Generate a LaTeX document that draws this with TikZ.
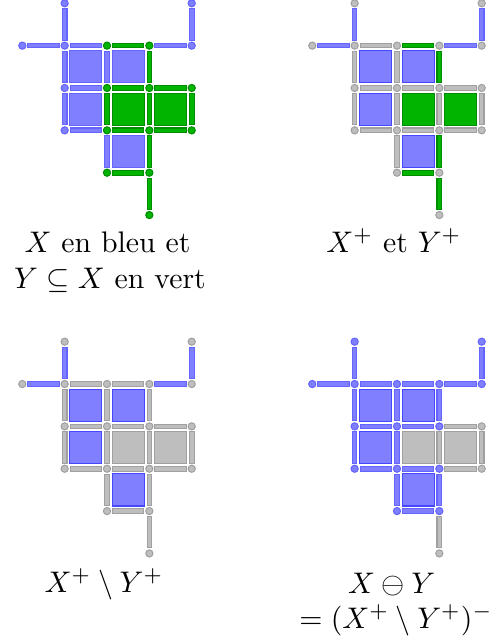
\documentclass[tikz,border=0pt]{standalone}
\usepackage{amsmath}
\usetikzlibrary{positioning}
\definecolor{CellBlue}{RGB}{127,127,255}
\definecolor{CellBlueLine}{RGB}{100,100,255}
\definecolor{CellBlueEdge}{RGB}{70,70,255}
\definecolor{CellGreen}{RGB}{0,180,0}
\definecolor{CellGreenLine}{RGB}{0,140,0}
\definecolor{CellGray}{RGB}{190,190,190}
\definecolor{CellGrayLine}{RGB}{160,160,160}
% cells of a cubical complex: vertex, horizontal edge, vertical edge, square
\newcommand{\cvtx}[3]{\filldraw[#1] (#2,#3) circle[radius=0.085];}
\newcommand{\chor}[3]{\filldraw[#1] (#2+0.13,#3-0.055) rectangle (#2+0.87,#3+0.055);}
\newcommand{\cver}[3]{\filldraw[#1] (#2-0.055,#3+0.13) rectangle (#2+0.055,#3+0.87);}
\newcommand{\csq}[3]{\filldraw[#1] (#2+0.12,#3+0.12) rectangle (#2+0.88,#3+0.88);}

\begin{document}
\begin{tikzpicture}[
      x=0.5cm, y=-0.5cm,
      every node/.style={font=\normalsize, align=center},
      cblue/.style={fill=CellBlue, draw=CellBlueLine, line width=0.35pt},
      cbluesq/.style={fill=CellBlue, draw=CellBlueEdge, line width=0.35pt},
      cgreen/.style={fill=CellGreen, draw=CellGreenLine, line width=0.35pt},
      cgray/.style={fill=CellGray, draw=CellGrayLine, line width=0.35pt}
  ]
    \useasboundingbox (0,0) rectangle (11.617,15.207);

    % X en bleu, Y en vert
    \begin{scope}[shift={(0.5266,0.0779)}]
      \foreach \i/\j in {1/1,2/1,1/2,2/3} \csq{cblue}{\i}{\j};
      \foreach \i/\j in {2/2,3/2} \csq{cgreen}{\i}{\j};
      \foreach \i/\j in {0/1,1/1,3/1,1/2,1/3} \chor{cblue}{\i}{\j};
      \foreach \i/\j in {2/1,2/2,3/2,2/3,3/3,2/4} \chor{cgreen}{\i}{\j};
      \foreach \i/\j in {1/0,4/0,1/1,1/2,2/1,2/3} \cver{cblue}{\i}{\j};
      \foreach \i/\j in {3/1,2/2,3/2,4/2,3/3,3/4} \cver{cgreen}{\i}{\j};
      \foreach \i/\j in {1/0,4/0,0/1,1/1,4/1,1/2,1/3} \cvtx{cblue}{\i}{\j};
      \foreach \i/\j in {2/1,3/1,2/2,3/2,4/2,2/3,3/3,4/3,2/4,3/4,3/5} \cvtx{cgreen}{\i}{\j};
    \end{scope}

    % X+ et Y+
    \begin{scope}[shift={(7.374,0.0779)}]
      \foreach \i/\j in {1/1,2/1,1/2,2/3} \csq{cbluesq}{\i}{\j};
      \foreach \i/\j in {2/2,3/2} \csq{cgreen}{\i}{\j};
      \foreach \i/\j in {1/1,1/2,2/2,3/2,1/3,2/3,3/3} \chor{cgray}{\i}{\j};
      \foreach \i/\j in {0/1,3/1} \chor{cblue}{\i}{\j};
      \foreach \i/\j in {2/1,2/4} \chor{cgreen}{\i}{\j};
      \foreach \i/\j in {1/1,1/2,2/1,2/2,2/3,3/2,4/2} \cver{cgray}{\i}{\j};
      \foreach \i/\j in {1/0,4/0} \cver{cblue}{\i}{\j};
      \foreach \i/\j in {3/1,3/3,3/4} \cver{cgreen}{\i}{\j};
      \foreach \i/\j in {1/0,4/0,0/1,1/1,2/1,3/1,4/1,1/2,2/2,3/2,4/2,1/3,2/3,3/3,4/3,2/4,3/4,3/5}
        \cvtx{cgray}{\i}{\j};
    \end{scope}

    % X+ \ Y+
    \begin{scope}[shift={(0.5266,8.068)}]
      \foreach \i/\j in {1/1,2/1,1/2,2/3} \csq{cbluesq}{\i}{\j};
      \foreach \i/\j in {2/2,3/2} \csq{cgray}{\i}{\j};
      \foreach \i/\j in {1/1,2/1,1/2,2/2,3/2,1/3,2/3,3/3,2/4} \chor{cgray}{\i}{\j};
      \foreach \i/\j in {0/1,3/1} \chor{cblue}{\i}{\j};
      \foreach \i/\j in {1/1,1/2,2/1,2/2,2/3,3/1,3/2,3/3,3/4,4/2} \cver{cgray}{\i}{\j};
      \foreach \i/\j in {1/0,4/0} \cver{cblue}{\i}{\j};
      \foreach \i/\j in {1/0,4/0,0/1,1/1,2/1,3/1,4/1,1/2,2/2,3/2,4/2,1/3,2/3,3/3,4/3,2/4,3/4,3/5}
        \cvtx{cgray}{\i}{\j};
    \end{scope}

    % X moins Y
    \begin{scope}[shift={(7.374,8.068)}]
      \foreach \i/\j in {1/1,2/1,1/2,2/3} \csq{cbluesq}{\i}{\j};
      \foreach \i/\j in {2/2,3/2} \csq{cgray}{\i}{\j};
      \foreach \i/\j in {0/1,1/1,2/1,3/1,1/2,2/2,1/3,2/3,2/4} \chor{cblue}{\i}{\j};
      \foreach \i/\j in {3/2,3/3} \chor{cgray}{\i}{\j};
      \foreach \i/\j in {1/0,4/0,1/1,1/2,2/1,2/2,2/3,3/1,3/3} \cver{cblue}{\i}{\j};
      \foreach \i/\j in {3/2,4/2,3/4} \cver{cgray}{\i}{\j};
      \foreach \i/\j in {1/0,4/0,0/1,1/1,2/1,3/1,4/1,1/2,2/2,3/2,1/3,2/3,3/3,2/4,3/4}
        \cvtx{cblue}{\i}{\j};
      \foreach \i/\j in {4/2,4/3,3/5} \cvtx{cgray}{\i}{\j};
    \end{scope}

    \node[anchor=base] (lblX) at (2.538,5.967) {$X$ en bleu et};
    \node[anchor=base] (lblY) at (2.597,6.808) {$Y \subseteq X$ en vert};
    \node[anchor=base] (lblPlus) at (9.303,5.967) {$X^+$ et $Y^+$};
    \node[anchor=base] (lblMinus) at (2.456,13.986) {$X^+ \setminus Y^+$};
    \node[anchor=base] (lblDiff) at (9.249,14.009) {$X \ominus Y$};
    \node[anchor=base] (lblClos) at (9.351,14.836) {$= (X^+ \setminus Y^+)^-$};
  \end{tikzpicture}
\end{document}
